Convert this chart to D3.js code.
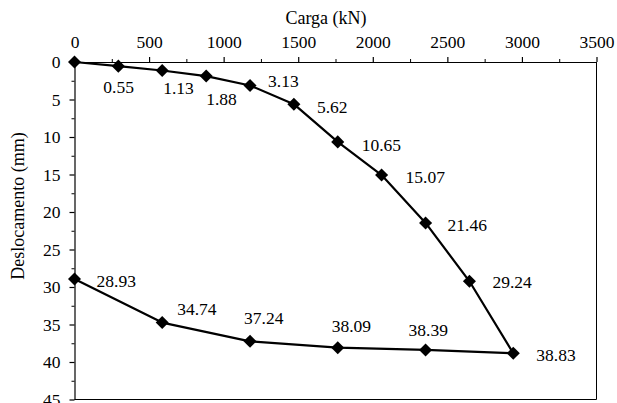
<!DOCTYPE html>
<html>
<head>
<meta charset="utf-8">
<script src="https://cdn.jsdelivr.net/npm/d3@7"></script>
<style>
  html, body { margin: 0; padding: 0; background: #fff; }
  svg { display: block; }
</style>
</head>
<body>
<svg id="chart" width="617" height="403"></svg>
<script>
// Load test: applied load (kN) and measured settlement (mm)
const loadingLoad = [0, 294, 588, 883, 1177, 1471, 1765, 2059, 2354, 2648, 2942];
const loadingDisp = [0, 0.55, 1.13, 1.88, 3.13, 5.62, 10.65, 15.07, 21.46, 29.24, 38.83];
const unloadingLoad = [2942, 2354, 1765, 1177, 588, 0];
const unloadingDisp = [38.83, 38.39, 38.09, 37.24, 34.74, 28.93];

const xTicks = [0, 500, 1000, 1500, 2000, 2500, 3000, 3500];
const yTicks = [0, 5, 10, 15, 20, 25, 30, 35, 40, 45];

// Hand-placed label nudges (dx, dy) for each labelled point
const loadingLabelNudge = [null, [-15, 21], [1, 17], [0, 23], [18, -5], [23, 3], [24, 3], [24, 2], [22, 2], [23, 1], [23, 2]];
const unloadingLabelNudge = [null, [-17, -20], [-6, -22], [-6, -23], [15, -14], [22, 2]];

const FONT = '"Liberation Serif"';
const fontSize = 17.5;

const svg = d3.select("#chart");
const plotL = 74.5, plotR = 596.5, plotT = 62, plotB = 399.5;

const x = d3.scaleLinear().domain([0, 3500]).range([plotL, plotR]);
const y = d3.scaleLinear().domain([0, 45]).range([plotT, plotB]);

// Plot frame (right and bottom edges)
svg.append("path")
  .attr("d", `M${plotR},${plotT}V${plotB}H${plotL}`)
  .attr("fill", "none").attr("stroke", "#000").attr("stroke-width", 1);

// Minor ticks
const xMinor = d3.range(250, 3500, 500);
const yMinor = d3.range(2.5, 45, 5);
svg.append("g").attr("transform", `translate(0,${plotT})`)
  .call(d3.axisTop(x).tickValues(xMinor).tickSize(3).tickFormat(""))
  .call(g => g.select(".domain").remove());
svg.append("g").attr("transform", `translate(${plotL},0)`)
  .call(d3.axisLeft(y).tickValues(yMinor).tickSize(3).tickFormat(""))
  .call(g => g.select(".domain").remove());

// Major axes
const xAxis = svg.append("g").attr("transform", `translate(0,${plotT})`)
  .call(d3.axisTop(x).tickValues(xTicks).tickSize(5).tickSizeOuter(0).tickPadding(9).tickFormat(d3.format("d")));
const yAxis = svg.append("g").attr("transform", `translate(${plotL},0)`)
  .call(d3.axisLeft(y).tickValues(yTicks).tickSize(5).tickSizeOuter(0).tickPadding(9).tickFormat(d3.format("d")));
[xAxis, yAxis].forEach(g => {
  g.attr("font-family", null).attr("font-size", null);
  g.selectAll("text").style("font-family", FONT).style("font-size", fontSize + "px").attr("fill", "#000");
  g.selectAll("line, path").attr("stroke", "#000").attr("stroke-width", 1.2);
});
svg.selectAll(".tick line").attr("stroke", "#000");

// Axis titles
svg.append("text")
  .attr("x", (plotL + plotR) / 2 - 9.5).attr("y", 18).attr("dy", "0.35em")
  .attr("text-anchor", "middle")
  .style("font-family", FONT).style("font-size", "18px")
  .text("Carga (kN)");
svg.append("text")
  .attr("transform", "translate(18,206) rotate(-90)")
  .attr("dy", "0.35em")
  .attr("text-anchor", "middle")
  .style("font-family", FONT).style("font-size", "18px")
  .text("Deslocamento (mm)");

// Curve: loading then unloading
const pts = loadingLoad.map((l, i) => ({ l, d: loadingDisp[i], nudge: loadingLabelNudge[i] }))
  .concat(unloadingLoad.slice(1).map((l, i) => ({ l, d: unloadingDisp[i + 1], nudge: unloadingLabelNudge[i + 1] })));

svg.append("path")
  .datum(pts)
  .attr("fill", "none").attr("stroke", "#000").attr("stroke-width", 2.2)
  .attr("stroke-linejoin", "round")
  .attr("d", d3.line().x(p => x(p.l)).y(p => y(p.d)));

// Diamond markers
const diamond = d3.symbol().type(d3.symbolSquare).size(85);
svg.append("g").selectAll("path")
  .data(pts)
  .join("path")
  .attr("d", diamond)
  .attr("transform", p => `translate(${x(p.l)},${y(p.d)}) rotate(45)`)
  .attr("fill", "#000");

// Value labels
svg.append("g").selectAll("text")
  .data(pts.filter(p => p.nudge))
  .join("text")
  .attr("x", p => x(p.l) + p.nudge[0])
  .attr("y", p => y(p.d) + p.nudge[1])
  .attr("dy", "0.35em")
  .style("font-family", FONT).style("font-size", fontSize + "px")
  .text(p => p.d.toFixed(2));
</script>
</body>
</html>
